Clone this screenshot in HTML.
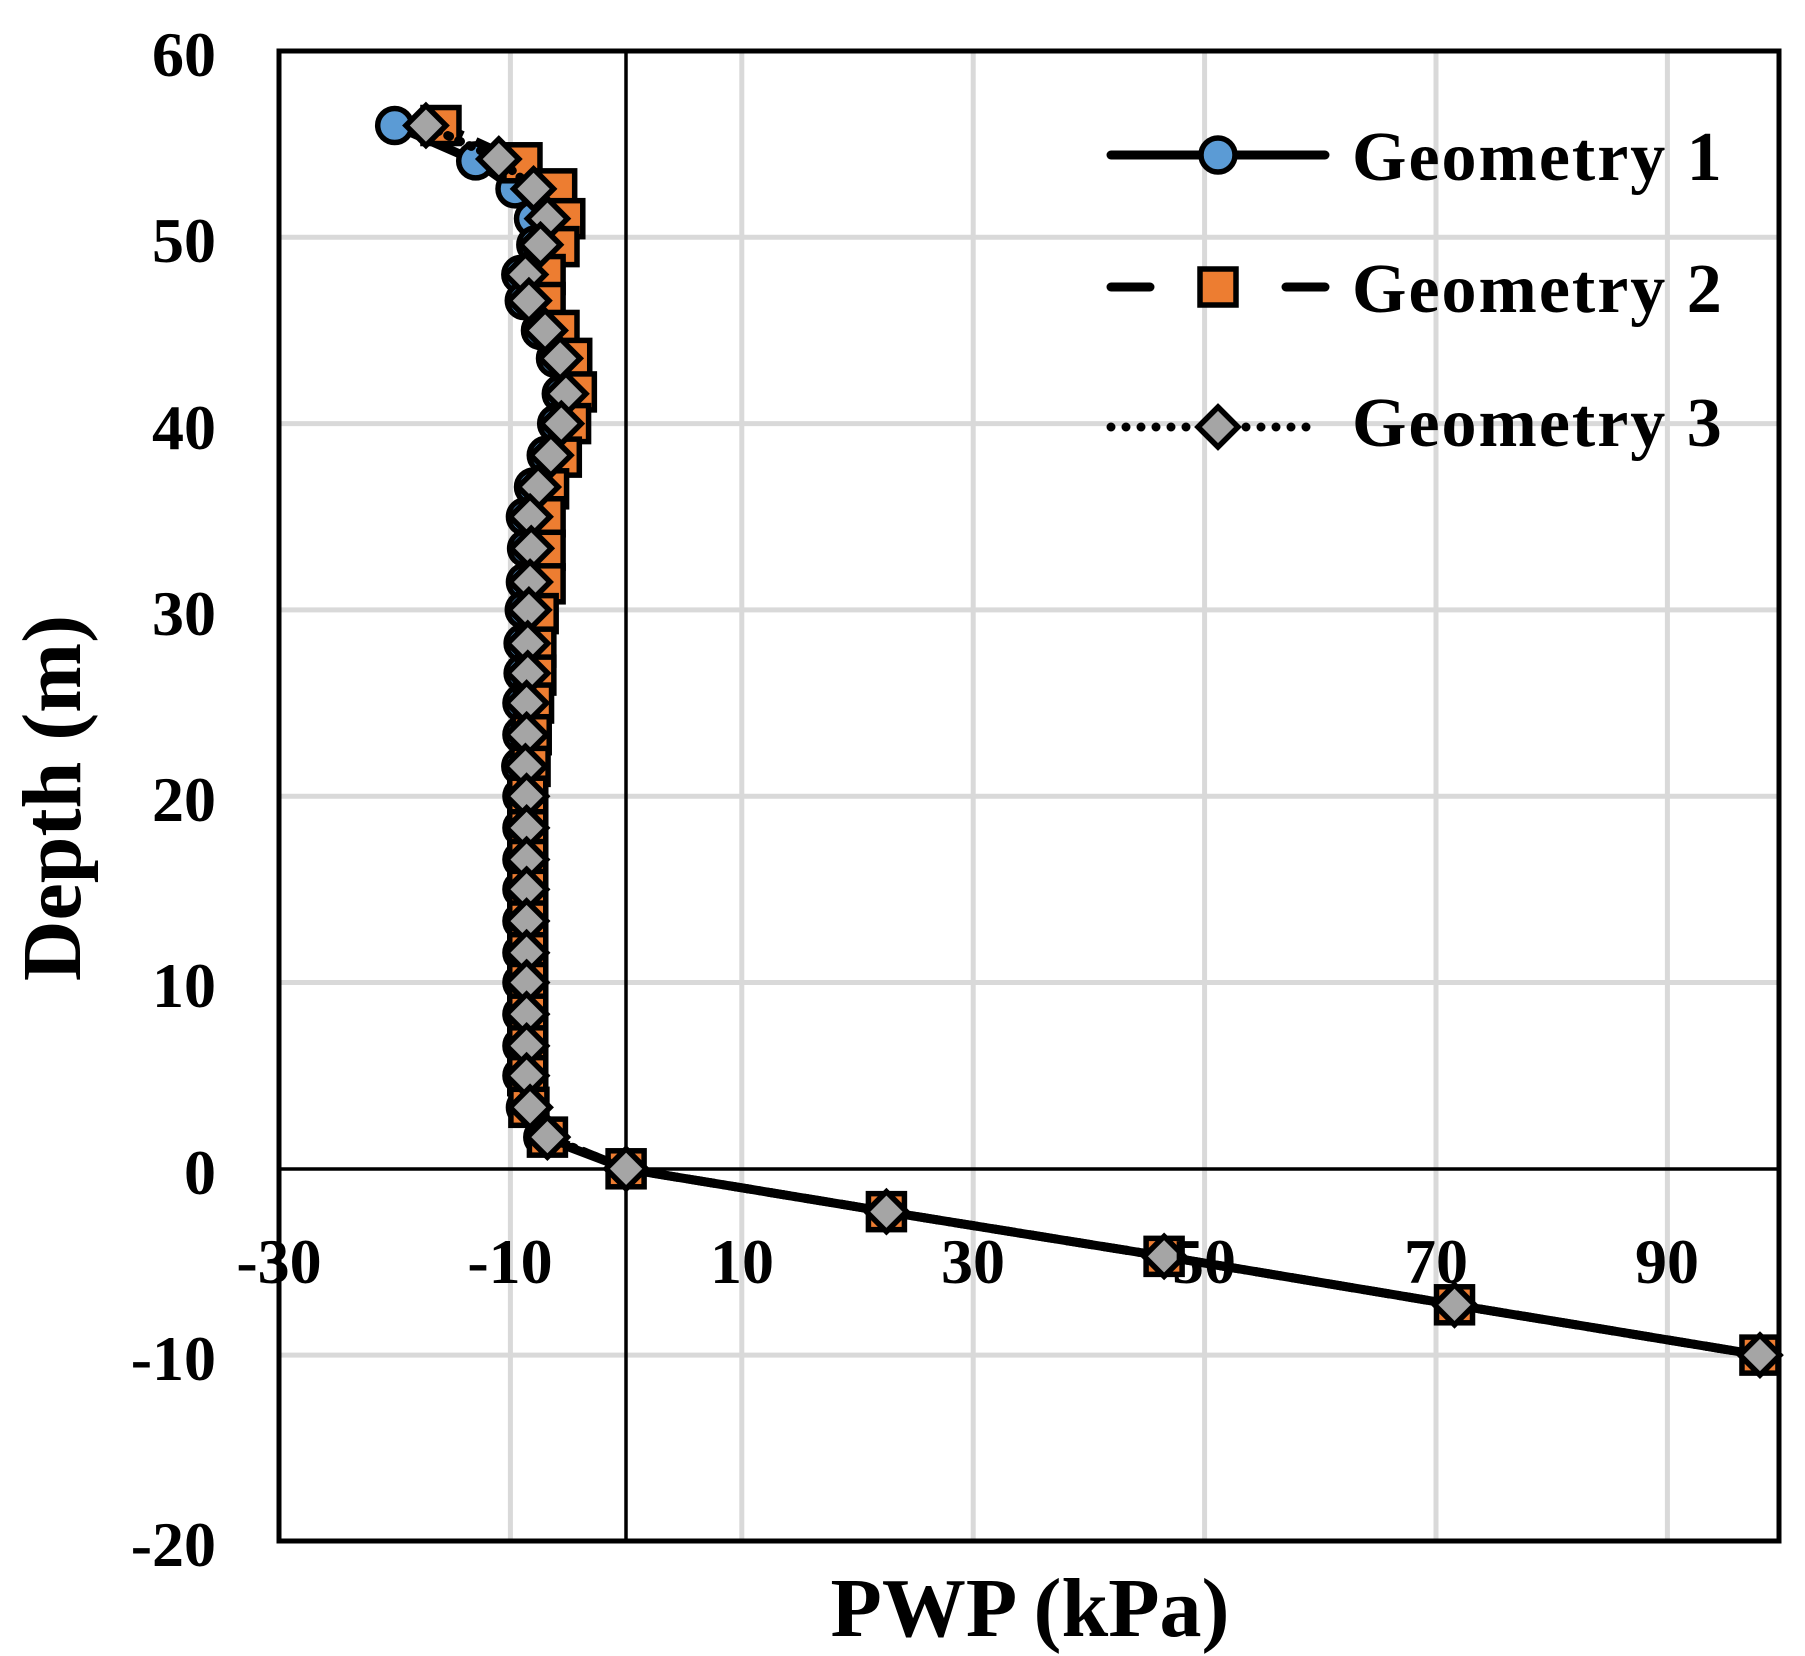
<!DOCTYPE html>
<html><head><meta charset="utf-8"><style>
html,body{margin:0;padding:0;background:#fff}
svg{display:block}
text{font-family:"Liberation Serif",serif;font-weight:bold;fill:#000}
</style></head><body>
<svg id="s" width="1805" height="1656" viewBox="0 0 1805 1656" xmlns="http://www.w3.org/2000/svg">
<g id="grid" stroke="#d9d9d9" stroke-width="5"></g>
<line x1="626" y1="51" x2="626" y2="1541" stroke="#000" stroke-width="3.5"/>
<line x1="279" y1="1169" x2="1779" y2="1169" stroke="#000" stroke-width="3.5"/>
<rect x="279" y="51" width="1500" height="1490" fill="none" stroke="#000" stroke-width="5"/>
<g id="ser"></g>
<g font-size="64" text-anchor="end">
<text x="216" y="76">60</text><text x="216" y="262">50</text><text x="216" y="449">40</text>
<text x="216" y="635">30</text><text x="216" y="821">20</text><text x="216" y="1007">10</text>
<text x="216" y="1194">0</text><text x="216" y="1380">-10</text><text x="216" y="1566">-20</text>
</g>
<g font-size="64" text-anchor="middle">
<text x="279" y="1283">-30</text><text x="510" y="1283">-10</text><text x="742" y="1283">10</text>
<text x="973" y="1283">30</text><text x="1204" y="1283">50</text><text x="1436" y="1283">70</text><text x="1667" y="1283">90</text>
</g>
<text font-size="84" text-anchor="middle" transform="translate(80,798) rotate(-90)">Depth (m)</text>
<text font-size="84" x="1030" y="1636" text-anchor="middle">PWP (kPa)</text>
<g id="leg"></g>
<g font-size="70" letter-spacing="2">
<text x="1352" y="180">Geometry 1</text>
<text x="1352" y="312">Geometry 2</text>
<text x="1352" y="446">Geometry 3</text>
</g>
</svg>
<script>
var NS="http://www.w3.org/2000/svg";
function X(v){return 279+(v+30)*11.57}
function Y(d){return 51+(60-d)*18.63}
function el(p,t,a){var e=document.createElementNS(NS,t);for(var k in a)e.setAttribute(k,a[k]);p.appendChild(e);return e}
var g=document.getElementById('grid');
for(var v=-10;v<=90;v+=20){el(g,'line',{x1:X(v),y1:51,x2:X(v),y2:1541})}
for(var d=-10;d<=50;d+=10){if(d==0)continue;el(g,'line',{x1:279,y1:Y(d),x2:1779,y2:Y(d)})}
var tail=[[0,0],[22.5,-2.3],[46.5,-4.7],[71.6,-7.3],[98,-10]];
var g3=[[-17.3,56],[-11,54.2],[-8,52.6],[-6.8,51],[-7.4,49.6],[-8.7,48],[-8.4,46.6],[-7,45],[-5.7,43.5],[-5.2,41.6],[-5.6,40],[-6.5,38.3],[-7.6,36.6],[-8.3,35],[-8.2,33.3],[-8.3,31.5],[-8.4,30],[-8.5,28.2],[-8.5,26.6],[-8.6,25],[-8.6,23.3],[-8.7,21.6],[-8.6,20],[-8.6,18.3],[-8.6,16.6],[-8.6,15],[-8.6,13.3],[-8.6,11.6],[-8.6,10],[-8.6,8.3],[-8.6,6.6],[-8.6,5],[-8.3,3.3],[-6.8,1.7]].concat(tail);
var g2=[[-16,56],[-9,54],[-6,52.6],[-5.3,51],[-5.8,49.5],[-7,48],[-7,46.5],[-5.8,45],[-4.7,43.5],[-4.3,41.7],[-4.8,40],[-5.6,38.2],[-6.7,36.5],[-7,35],[-7,33.2],[-7,31.4],[-7.6,29.8],[-7.8,28],[-7.8,26.5],[-8,25],[-8.2,23.3],[-8.3,21.6],[-8.5,20],[-8.5,18.2],[-8.5,16.6],[-8.5,15],[-8.5,13.3],[-8.5,11.6],[-8.5,10],[-8.5,8.3],[-8.5,6.6],[-8.5,5],[-8.4,3.3],[-6.8,1.7]].concat(tail);
var g1=[[-20,56],[-13,54.1],[-9.6,52.6],[-8,51]].concat(g3.slice(4,34).map(function(p){return[p[0]-0.4,p[1]]})).concat(tail);
var s=document.getElementById('ser');
function pts(a){return a.map(function(p){return X(p[0])+','+Y(p[1])}).join(' ')}
function circ(p,x,y){el(p,'circle',{cx:x,cy:y,r:17,fill:'#5b9bd5',stroke:'#000','stroke-width':5.5})}
function sq(p,x,y){el(p,'rect',{x:x-18,y:y-18,width:36,height:36,fill:'#ed7d31',stroke:'#000','stroke-width':5.5})}
function dm(p,x,y){el(p,'polygon',{points:(x)+','+(y-20)+' '+(x+20)+','+y+' '+x+','+(y+20)+' '+(x-20)+','+y,fill:'#a5a5a5',stroke:'#000','stroke-width':5.5})}
el(s,'polyline',{points:pts(g1),fill:'none',stroke:'#000','stroke-width':9});
g1.forEach(function(p){circ(s,X(p[0]),Y(p[1]))});
el(s,'polyline',{points:pts(g2),fill:'none',stroke:'#000','stroke-width':9,'stroke-dasharray':'24 14'});
g2.forEach(function(p){sq(s,X(p[0]),Y(p[1]))});
el(s,'polyline',{points:pts(g3),fill:'none',stroke:'#000','stroke-width':9,'stroke-dasharray':'2 10','stroke-linecap':'round'});
g3.forEach(function(p){dm(s,X(p[0]),Y(p[1]))});
var L=document.getElementById('leg');
el(L,'line',{x1:1111,y1:155,x2:1325,y2:155,stroke:'#000','stroke-width':9,'stroke-linecap':'round'});circ(L,1218,155);
el(L,'line',{x1:1111,y1:287,x2:1150,y2:287,stroke:'#000','stroke-width':9,'stroke-linecap':'round'});
el(L,'line',{x1:1286,y1:287,x2:1325,y2:287,stroke:'#000','stroke-width':9,'stroke-linecap':'round'});sq(L,1218,287);
el(L,'line',{x1:1111,y1:427,x2:1320,y2:427,stroke:'#000','stroke-width':9,'stroke-dasharray':'0 15','stroke-linecap':'round'});dm(L,1218,427);
</script>
</body></html>
